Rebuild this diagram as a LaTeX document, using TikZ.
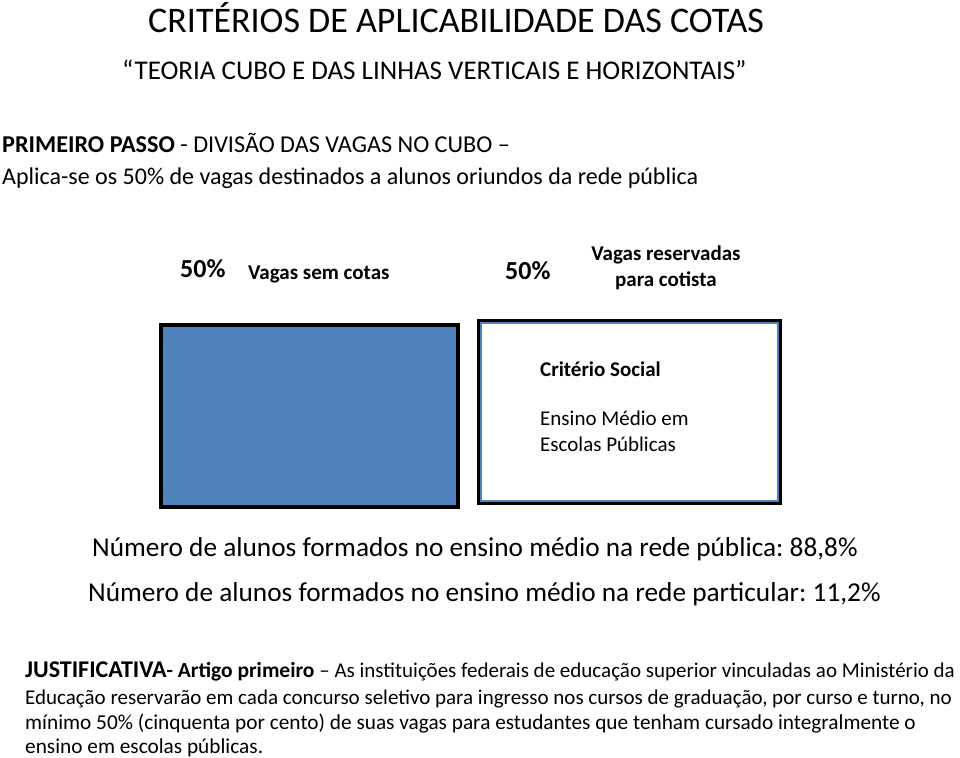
\documentclass[tikz,border=0pt]{standalone}
\usepackage{fontspec}
\setmainfont{Carlito}
\usetikzlibrary{positioning}
\definecolor{officeblue}{RGB}{79, 129, 189}
\frenchspacing

\begin{document}
\begin{tikzpicture}[x=1pt, y=-1pt,
        txt/.style={inner sep=0pt, anchor=base west, text=black},
        cube/.style={draw=black, line width=4pt, minimum width=297pt, minimum height=182pt, anchor=north west, inner sep=0pt}
    ]
    \useasboundingbox[fill=white] (0,0) rectangle (960,757);
    % Titles
    \node[txt, font=\fontsize{36}{44}\selectfont] (title) at (148,33) {CRITÉRIOS DE APLICABILIDADE DAS COTAS};
    \node[txt, font=\fontsize{27}{32}\selectfont] (subtitle) at (122,80) {“TEORIA CUBO E DAS LINHAS VERTICAIS E HORIZONTAIS”};
    \node[txt, font=\fontsize{24.2}{30}\selectfont] (passo) at (2,152) {\textbf{PRIMEIRO PASSO} - DIVISÃO DAS VAGAS NO CUBO –};
    \node[txt, font=\fontsize{24}{30}\selectfont] (aplica) at (2,184) {Aplica-se os 50\% de vagas destinados a alunos oriundos da rede pública};

    % Labels above the cube
    \node[txt, font=\fontsize{26}{30}\selectfont\bfseries] (pctA) at (180,277) {50\%};
    \node[txt, font=\fontsize{21}{25}\selectfont\bfseries] (semcotas) at (248,279) {Vagas sem cotas};
    \node[txt, font=\fontsize{26}{30}\selectfont\bfseries] (pctB) at (505,279) {50\%};
    \node[inner sep=0pt, align=center, font=\fontsize{21}{26}\selectfont\bfseries] (reserv) at (666,268) {Vagas reservadas\\para cotista};

    % Cube halves
    \node[cube, fill=officeblue] (semcubo) at (159,323) {};
    \node[cube, line width=5pt, minimum width=300pt, minimum height=181pt] (cotacubo) at (477,319) {};
    \draw[officeblue, line width=2pt] ([shift={(4,4)}]cotacubo.north west) rectangle ([shift={(-4,-4)}]cotacubo.south east);
    \node[txt, font=\fontsize{21}{25}\selectfont\bfseries] (social) at (540,376) {Critério Social};
    \node[txt, font=\fontsize{21}{25}\selectfont] (ensino) at (540,425) {Ensino Médio em};
    \node[txt, font=\fontsize{21}{25}\selectfont] (escolas) at (540,451) {Escolas Públicas};

    % Percentages
    \node[txt, font=\fontsize{27.3}{32}\selectfont] (publica) at (92,556) {Número de alunos formados no ensino médio na rede pública: 88,8\%};
    \node[txt, font=\fontsize{27.3}{32}\selectfont] (particular) at (88,601) {Número de alunos formados no ensino médio na rede particular: 11,2\%};

    % Justificativa
    \node[txt, font=\fontsize{21}{25}\selectfont] (just1) at (25,677) {\textbf{\fontsize{24}{25}\selectfont JUSTIFICATIVA}\textbf{- \fontsize{21.5}{25}\selectfont Artigo primeiro} – As instituições federais de educação superior vinculadas ao Ministério da};
    \node[txt, font=\fontsize{21}{25}\selectfont] (just2) at (25,704) {Educação reservarão em cada concurso seletivo para ingresso nos cursos de graduação, por curso e turno, no};
    \node[txt, font=\fontsize{21.3}{25}\selectfont] (just3) at (25,729) {mínimo 50\% (cinquenta por cento) de suas vagas para estudantes que tenham cursado integralmente o};
    \node[txt, font=\fontsize{21.3}{25}\selectfont] (just4) at (25,753) {ensino em escolas públicas.};
\end{tikzpicture}
\end{document}
